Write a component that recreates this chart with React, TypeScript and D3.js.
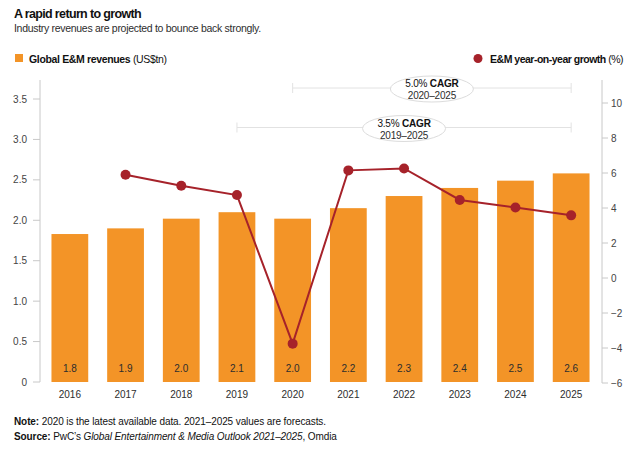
import React from "react";
import * as d3 from "d3";

const years = ["2016", "2017", "2018", "2019", "2020", "2021", "2022", "2023", "2024", "2025"];
const revenues = [1.83, 1.9, 2.02, 2.1, 2.02, 2.15, 2.3, 2.4, 2.49, 2.58];
const revenueLabels = ["1.8", "1.9", "2.0", "2.1", "2.0", "2.2", "2.3", "2.4", "2.5", "2.6"];
const growthYears = ["2017", "2018", "2019", "2020", "2021", "2022", "2023", "2024", "2025"];
const growth = [5.9, 5.27, 4.74, -3.75, 6.15, 6.26, 4.46, 4.03, 3.58];
const leftTicks = [0, 0.5, 1.0, 1.5, 2.0, 2.5, 3.0, 3.5];
const rightTicks = [-6, -4, -2, 0, 2, 4, 6, 8, 10];
const cagrs = [
  { rate: "5.0%", period: "2020–2025", from: "2020", to: "2025", y: 88 },
  { rate: "3.5%", period: "2019–2025", from: "2019", to: "2025", y: 127.5 },
];

const FONT = "'Liberation Sans', Arial, Helvetica, sans-serif";
const ORANGE = "#F39427";
const RED = "#A6222A";
const AXIS = "#C8C8C8";
const TEXT = "#2d2d2d";

export default function App() {
  const W = 640, H = 451;
  const x = d3.scaleBand<string>().domain(years).range([42, 599]).paddingInner(0.34).paddingOuter(0.17);
  const yL = d3.scaleLinear().domain([0, 3.5]).range([382, 99]);
  const yR = d3.scaleLinear().domain([-6, 10]).range([383, 103]);
  const cx = (yr: string) => (x(yr) as number) + x.bandwidth() / 2;
  const line = d3.line<number>()
    .x((_, i) => cx(growthYears[i]))
    .y((d) => yR(d));
  const fmtL = (v: number) => (v === 0 ? "0" : d3.format(".1f")(v));
  const fmtR = d3.format("d");

  return (
    <svg width={W} height={H} viewBox={`0 0 ${W} ${H}`} style={{ display: "block", position: "absolute", left: 0, top: 0, fontFamily: FONT }}>
      <rect width={W} height={H} fill="#fff" />
      <text x={14} y={18} fontSize={12.5} fontWeight="bold" fill="#111" letterSpacing={-0.65}>A rapid return to growth</text>
      <text x={14} y={32} fontSize={10.5} fill={TEXT} letterSpacing={-0.3}>Industry revenues are projected to bounce back strongly.</text>

      {/* legends */}
      <rect x={15} y={54} width={8} height={8} fill={ORANGE} />
      <text x={29} y={62.5} fontSize={10.5} fill="#111" letterSpacing={-0.35}>
        <tspan fontWeight="bold">Global E&amp;M revenues</tspan> (US$tn)
      </text>
      <circle cx={478} cy={58.5} r={4.5} fill={RED} />
      <text x={623} y={62.5} fontSize={10.5} fill="#111" textAnchor="end" letterSpacing={-0.5}>
        <tspan fontWeight="bold">E&amp;M year-on-year growth</tspan> (%)
      </text>

      {/* left axis */}
      <line x1={40} x2={40} y1={80} y2={382} stroke={AXIS} />
      {leftTicks.map((t) => (
        <g key={t}>
          <line x1={33} x2={40} y1={yL(t)} y2={yL(t)} stroke={AXIS} />
          <text x={27} y={yL(t) + 3.5} fontSize={10} fill="#444" textAnchor="end">{fmtL(t)}</text>
        </g>
      ))}

      {/* right axis */}
      <line x1={602} x2={602} y1={80} y2={383} stroke={AXIS} />
      {rightTicks.map((t) => (
        <g key={t}>
          <line x1={602} x2={608} y1={yR(t)} y2={yR(t)} stroke={AXIS} />
          <text x={611} y={yR(t) + 3.5} fontSize={10} fill="#444">{fmtR(t)}</text>
        </g>
      ))}

      {/* CAGR brackets */}
      {cagrs.map((c) => {
        const x1 = cx(c.from), x2 = cx(c.to), mx = (x1 + x2) / 2;
        return (
          <g key={c.rate}>
            <line x1={x1} x2={x2} y1={c.y} y2={c.y} stroke="#e2e2e2" />
            <line x1={x1} x2={x1} y1={c.y - 5} y2={c.y + 5} stroke="#e2e2e2" />
            <line x1={x2} x2={x2} y1={c.y - 5} y2={c.y + 5} stroke="#e2e2e2" />
            <ellipse cx={mx} cy={c.y + 1} rx={41.5} ry={13} fill="#fff" stroke="#dcdcdc" />
            <text x={mx} y={c.y - 1} fontSize={10} textAnchor="middle" fill="#111" letterSpacing={-0.2}>
              {c.rate} <tspan fontWeight="bold">CAGR</tspan>
            </text>
            <text x={mx} y={c.y + 11} fontSize={10} textAnchor="middle" fill={TEXT} letterSpacing={-0.2}>{c.period}</text>
          </g>
        );
      })}

      {/* bars */}
      {years.map((yr, i) => (
        <g key={yr}>
          <rect x={x(yr)} y={yL(revenues[i])} width={x.bandwidth()} height={yL(0) - yL(revenues[i])} fill={ORANGE} />
          <text x={cx(yr)} y={372} fontSize={10} textAnchor="middle" fill={TEXT}>{revenueLabels[i]}</text>
          <text x={cx(yr)} y={398} fontSize={10} textAnchor="middle" fill={TEXT}>{yr}</text>
        </g>
      ))}

      {/* growth line */}
      <path d={line(growth) || ""} fill="none" stroke={RED} strokeWidth={2} />
      {growth.map((g, i) => (
        <circle key={growthYears[i]} cx={cx(growthYears[i])} cy={yR(g)} r={5} fill={RED} />
      ))}

      {/* notes */}
      <text x={14} y={425} fontSize={10} fill="#111" letterSpacing={-0.1}>
        <tspan fontWeight="bold">Note:</tspan> 2020 is the latest available data. 2021–2025 values are forecasts.
      </text>
      <text x={14} y={440} fontSize={10} fill="#111" letterSpacing={-0.1}>
        <tspan fontWeight="bold">Source:</tspan> PwC’s <tspan fontStyle="italic">Global Entertainment &amp; Media Outlook 2021–2025</tspan>, Omdia
      </text>
    </svg>
  );
}
